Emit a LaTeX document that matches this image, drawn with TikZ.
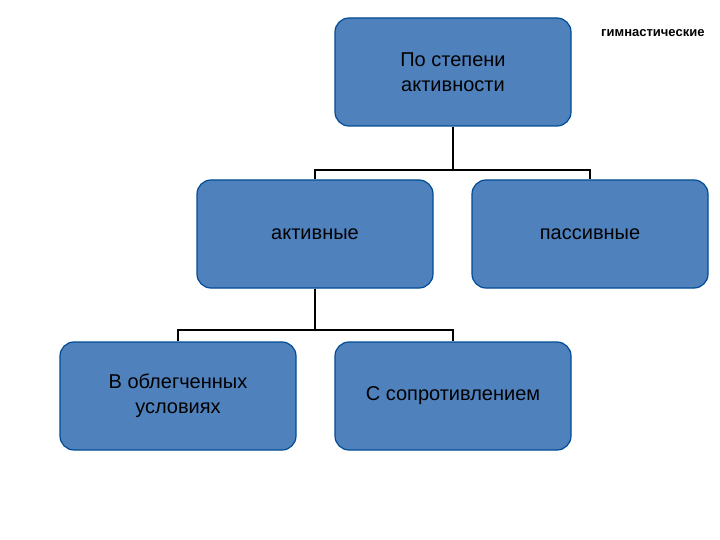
\documentclass[tikz,border=0pt]{standalone}
\usepackage{fontspec}
\setmainfont{Liberation Sans}
\begin{document}
\begin{tikzpicture}[x=1pt,y=-1pt,
  box/.style={draw=blue!40!black!70!cyan, line width=1.2pt, fill={rgb,255:red,79;green,129;blue,189}, rounded corners=14pt, minimum width=236pt, minimum height=108pt, align=center, font=\fontsize{20}{25}\selectfont, text=black},
  conn/.style={draw=black, line width=1.6pt}]
\useasboundingbox (0,0) rectangle (720,540);
\node[box] (top) at (453,72) {По степени\\активности};
\node[box] (act) at (315,234) {активные};
\node[box] (pas) at (590,234) {пассивные};
\node[box] (obl) at (178,396) {В облегченных\\условиях};
\node[box] (sop) at (453,396) {С сопротивлением};
\node[font=\fontsize{13}{15}\selectfont\bfseries, anchor=east] (gym) at (708,33) {гимнастические};
\coordinate (j1) at (453,170);
\coordinate (j2) at (315,330);
\draw[conn] (top.south) -- (j1);
\draw[conn] (act.north) |- (j1) -| (pas.north);
\draw[conn] (act.south) -- (j2);
\draw[conn] (obl.north) |- (j2) -| (sop.north);
\end{tikzpicture}
\end{document}
